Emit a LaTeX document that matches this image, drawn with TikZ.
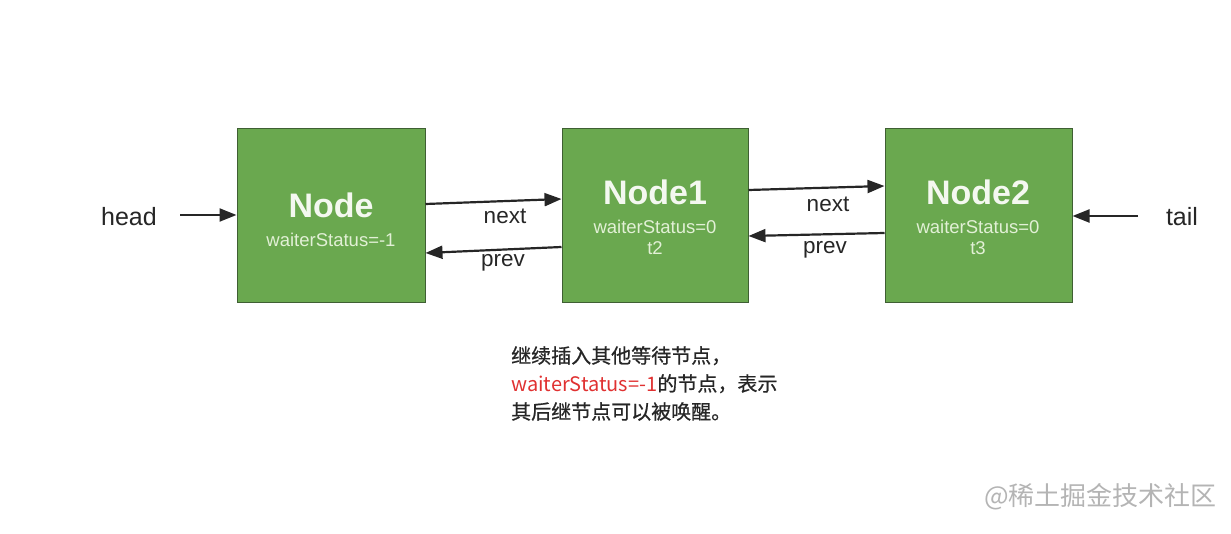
\documentclass[tikz,border=0pt]{standalone}
\usepackage{fontspec}
\setmainfont{Liberation Sans}
\newfontfamily\cjk{Noto Sans CJK SC}
\newfontfamily\cjkmed[FakeBold=0.8]{Noto Sans CJK SC}
\usetikzlibrary{arrows.meta}
\definecolor{boxfill}{HTML}{6AA84F}
\definecolor{boxdraw}{HTML}{3F5F33}
\definecolor{titlec}{HTML}{F4F8F0}
\definecolor{subc}{HTML}{E2F0D6}
\definecolor{redtxt}{HTML}{E03131}
\definecolor{marktxt}{HTML}{B4B4B4}
\tikzset{
  listbox/.style={draw=boxdraw, line width=1pt, fill=boxfill, minimum width=188pt, minimum height=174pt, inner sep=0pt},
  title/.style={text=titlec, font=\fontsize{34}{38}\selectfont\bfseries, inner sep=0pt},
  sub/.style={text=subc, font=\fontsize{18.5}{21}\selectfont, inner sep=0pt, align=center},
  lbl/.style={text=black!85, font=\fontsize{22.5}{26}\selectfont, inner sep=0pt},
  side/.style={text=black!85, font=\fontsize{25}{29}\selectfont, inner sep=0pt},
  link/.style={line width=2.2pt, black!85, -{Triangle[length=17pt,width=13pt]}},
}
\begin{document}
\begin{tikzpicture}[x=1pt,y=-1pt]
\useasboundingbox (0,0) rectangle (1231,534);
% boxes
\node[listbox] (n0) at (331,216) {};
\node[listbox, minimum width=186pt] (n1) at (655,216) {};
\node[listbox, minimum width=187pt] (n2) at (978.5,216) {};
% box texts
\node[title] (t0) at (331,205) {Node};
\node[sub] (s0) at (331,240) {waiterStatus=-1};
\node[title] (t1) at (655,192) {Node1};
\node[sub] (s1) at (655,237.5) {waiterStatus=0\\t2};
\node[title] (t2) at (978,192) {Node2};
\node[sub] (s2) at (978,237.5) {waiterStatus=0\\t3};
% side labels
\node[side] (head) at (129,217) {head};
\node[side] (tail) at (1182,217) {tail};
\coordinate (hs) at (180,215);
\coordinate (ts) at (1138,216);
\draw[link] (hs) -- (n0.west |- hs);
\draw[link] (ts) -- (n2.east |- ts);
% links (yshift is in canvas units: positive = up)
\draw[link] ([yshift=12pt]n0.east) -- ([yshift=17pt]n1.west);
\draw[link] ([yshift=-31pt]n1.west) -- ([yshift=-37pt]n0.east);
\draw[link] ([yshift=26pt]n1.east) -- ([yshift=30pt]n2.west);
\draw[link] ([yshift=-17pt]n2.west) -- ([yshift=-20pt]n1.east);
% link labels
\node[lbl] (l1) at (505,216) {next};
\node[lbl] (l2) at (503,263) {prev};
\node[lbl] (l3) at (828,204) {next};
\node[lbl] (l4) at (825,250) {prev};
% note
\node[anchor=north west, inner sep=0pt, align=left, text=black!85,
      font=\cjkmed\fontsize{20}{28}\selectfont] (note) at (511,346)
  {继续插入其他等待节点，\\
   \textcolor{redtxt}{\cjk waiterStatus=-1}的节点，表示\\
   其后继节点可以被唤醒。};
% watermark
\node[anchor=west, inner sep=0pt, text=marktxt, font=\cjk\fontsize{26}{30}\selectfont] (wm) at (984,497) {@稀土掘金技术社区};
\end{tikzpicture}
\end{document}
